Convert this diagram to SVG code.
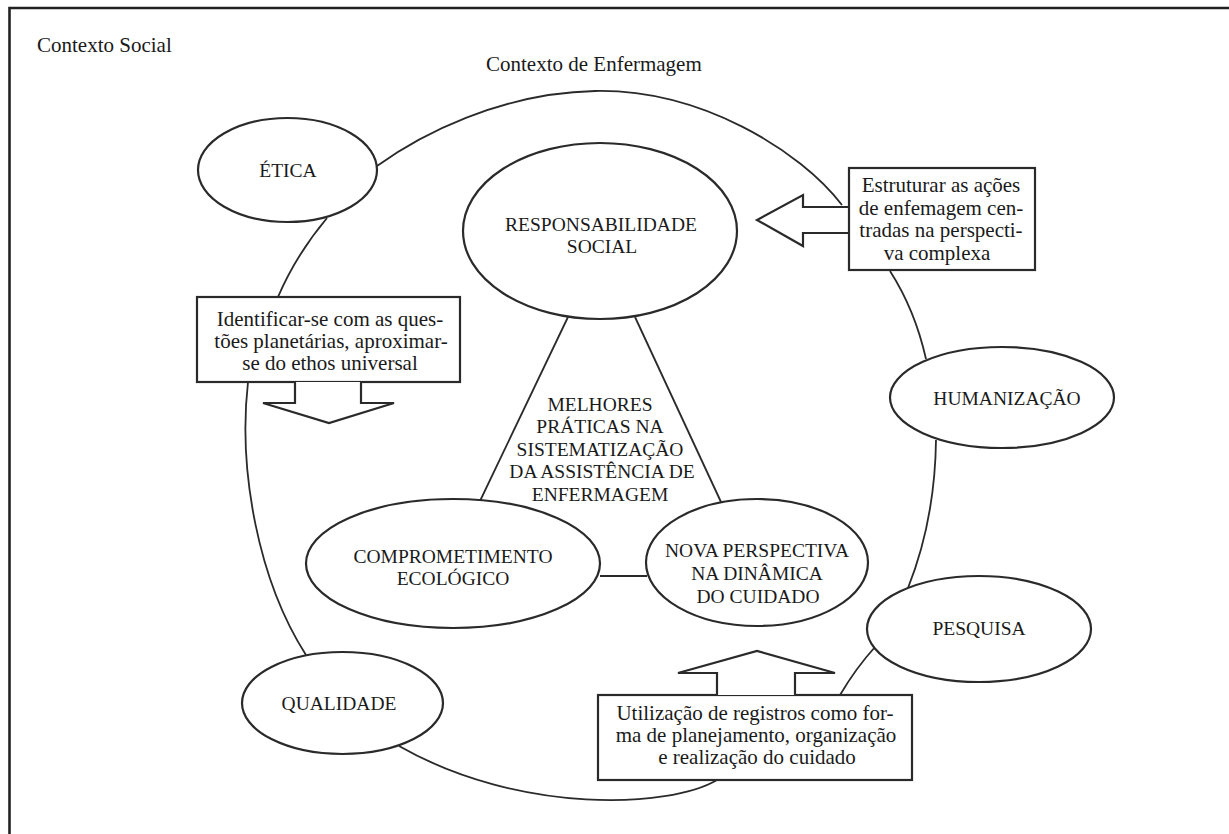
<svg xmlns="http://www.w3.org/2000/svg" width="1229" height="834" viewBox="0 0 1229 834">
  <style>
    text { font-family: "Liberation Serif", "Times New Roman", serif; fill: #1a1a1a; }
    .lbl { font-size: 21px; }
    .cap { font-size: 19.5px; text-anchor: middle; }
    .box { font-size: 21px; text-anchor: middle; }
    .node { fill: #ffffff; stroke: #2a2a2a; stroke-width: 2.2; }
    .arrow { fill: #ffffff; stroke: #2a2a2a; stroke-width: 2.2; stroke-linejoin: miter; }
    .conn { fill: none; stroke: #2a2a2a; stroke-width: 1.8; }
    .frame { fill: none; stroke: #222222; stroke-width: 2.6; }
  </style>
  <rect x="0" y="0" width="1229" height="834" fill="#ffffff"/>

  <g id="frame">
    <path class="frame" d="M9.5,834 L9.5,8 L1229,8"/>
  </g>

  <g id="context-labels">
    <text class="lbl" x="37" y="52">Contexto Social</text>
    <text class="lbl" x="486" y="71">Contexto de Enfermagem</text>
  </g>

  <g id="connectors">
    <!-- outer ring segments -->
    <path class="conn" d="M377,166 C420,135 500,93 595,91 C700,89 800,150 842,205"/>
    <path class="conn" d="M890,271 Q915,310 926,359"/>
    <path class="conn" d="M936,440 Q935,520 908,588"/>
    <path class="conn" d="M875,647 Q856,668 840,695"/>
    <path class="conn" d="M717,780 C670,808 520,815 399,746"/>
    <path class="conn" d="M306,655 C258,580 238,470 248,382"/>
    <path class="conn" d="M278,297 Q296,255 327,218"/>
    <!-- inner triangle -->
    <path class="conn" d="M568,317 L480,501"/>
    <path class="conn" d="M635,317 L721,502"/>
    <path class="conn" d="M600,576 L647,576"/>
  </g>

  <g id="etica">
    <ellipse class="node" cx="287.5" cy="170" rx="89.5" ry="52"/>
    <text class="cap" x="288" y="177">ÉTICA</text>
  </g>

  <g id="responsabilidade-social">
    <ellipse class="node" cx="600" cy="231" rx="137" ry="88"/>
    <text class="cap" x="601" y="231">RESPONSABILIDADE</text>
    <text class="cap" x="602" y="253">SOCIAL</text>
  </g>

  <g id="estruturar">
    <polyline class="arrow" points="849,207 803,207 803,195 757,220 803,246 803,233 849,233"/>
    <rect class="node" x="849" y="168" width="186" height="102"/>
    <text class="box" x="941" y="192">Estruturar as ações</text>
    <text class="box" x="941" y="215">de enfemagem cen-</text>
    <text class="box" x="941" y="237">tradas na perspecti-</text>
    <text class="box" x="937" y="260">va complexa</text>
  </g>

  <g id="identificar">
    <rect class="node" x="197" y="297" width="263" height="85"/>
    <polyline class="arrow" points="295,382 295,403 263,403 329,423 394,403 361,403 361,382"/>
    <text class="box" x="330" y="326">Identificar-se com as ques-</text>
    <text class="box" x="331" y="348">tões planetárias, aproximar-</text>
    <text class="box" x="330" y="370">se do ethos universal</text>
  </g>

  <g id="melhores-praticas">
    <text class="cap" x="600" y="411">MELHORES</text>
    <text class="cap" x="600" y="433">PRÁTICAS NA</text>
    <text class="cap" x="600" y="456">SISTEMATIZAÇÃO</text>
    <text class="cap" x="602" y="478">DA ASSISTÊNCIA DE</text>
    <text class="cap" x="600" y="501">ENFERMAGEM</text>
  </g>

  <g id="humanizacao">
    <ellipse class="node" cx="1002" cy="397.5" rx="112" ry="50.5"/>
    <text class="cap" x="1007" y="405">HUMANIZAÇÃO</text>
  </g>

  <g id="comprometimento-ecologico">
    <ellipse class="node" cx="453" cy="563.5" rx="147" ry="64.5"/>
    <text class="cap" x="453" y="563">COMPROMETIMENTO</text>
    <text class="cap" x="453" y="585">ECOLÓGICO</text>
  </g>

  <g id="nova-perspectiva">
    <ellipse class="node" cx="757" cy="562.5" rx="111" ry="63.5"/>
    <text class="cap" x="757" y="557">NOVA PERSPECTIVA</text>
    <text class="cap" x="757" y="580">NA DINÂMICA</text>
    <text class="cap" x="758" y="603">DO CUIDADO</text>
  </g>

  <g id="pesquisa">
    <ellipse class="node" cx="979" cy="629" rx="112" ry="53"/>
    <text class="cap" x="979" y="635">PESQUISA</text>
  </g>

  <g id="qualidade">
    <ellipse class="node" cx="342.5" cy="703" rx="100.5" ry="51"/>
    <text class="cap" x="339" y="710">QUALIDADE</text>
  </g>

  <g id="utilizacao">
    <rect class="node" x="598" y="695" width="314" height="85"/>
    <polyline class="arrow" points="717,695 717,673 678,673 757,651 835,673 795,673 795,695"/>
    <text class="box" x="755" y="720">Utilização de registros como for-</text>
    <text class="box" x="756" y="742">ma de planejamento, organização</text>
    <text class="box" x="757" y="764">e realização do cuidado</text>
  </g>
</svg>
